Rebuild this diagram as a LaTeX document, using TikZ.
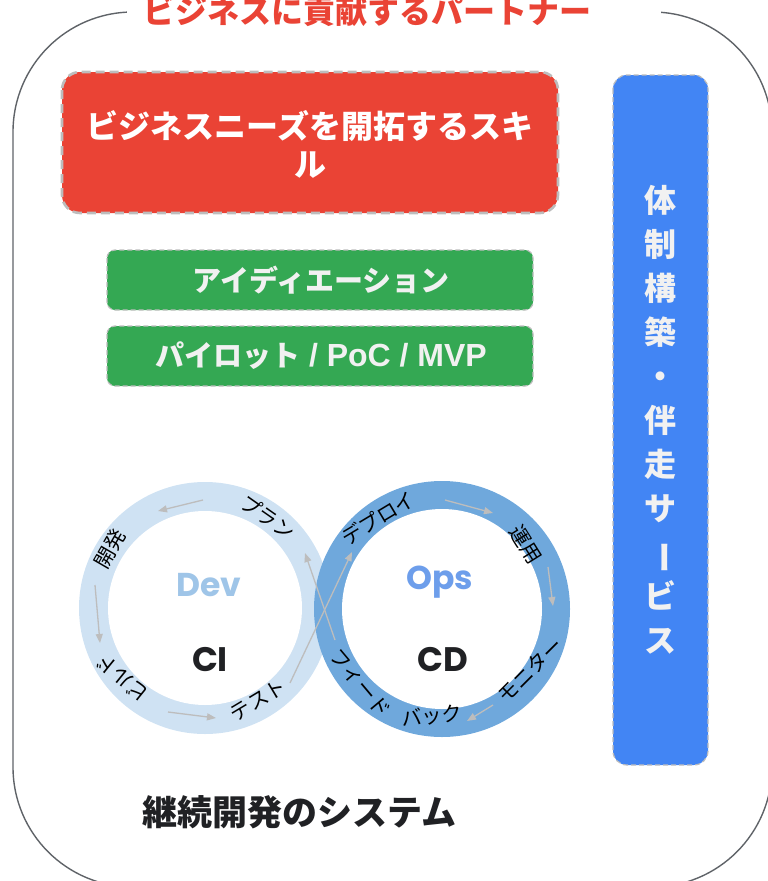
\documentclass[tikz,border=0pt]{standalone}
\usepackage{fontspec}
\setmainfont{Noto Sans CJK JP}
\newfontfamily\geo{Poppins}
\newfontfamily\arialf{Liberation Sans}
\usetikzlibrary{arrows.meta}
\definecolor{gred}{HTML}{EA4335}
\definecolor{ggreen}{HTML}{34A853}
\definecolor{gblue}{HTML}{4285F4}
\definecolor{framegray}{HTML}{5F6368}
\definecolor{dashgray}{HTML}{BDBDBD}
\definecolor{arrowgray}{HTML}{BDBDBD}
\definecolor{ringlight}{HTML}{CFE2F3}
\definecolor{ringdark}{HTML}{6FA8DC}
\definecolor{devblue}{HTML}{9FC5E8}
\definecolor{opsblue}{HTML}{6D9EEB}
\definecolor{inkblack}{HTML}{202124}
\definecolor{offwhite}{HTML}{F1F1F1}
\begin{document}
\begin{tikzpicture}[x=1pt,y=-1pt,
  frame/.style={draw=framegray, line width=1.4pt},
  box/.style={draw=dashgray, dashed, dash pattern=on 9pt off 5pt, line width=2.6pt},
  thinbox/.style={draw=dashgray, dashed, dash pattern=on 5pt off 3pt, line width=1.2pt},
  ringlbl/.style={font=\fontsize{20.5}{20.5}\selectfont, text=black, inner sep=0pt},
  flow/.style={draw=arrowgray, line width=1.3pt, -{Triangle[length=9pt,width=7pt]}},
  bigtxt/.style={font=\bfseries\fontsize{#1}{#1}\selectfont, inner sep=0pt}
]
\useasboundingbox (0,0) rectangle (768,881);
% outer frame
\draw[frame, rounded corners=120pt] (13,12) rectangle (772,887);
\fill[white] (127,0) rectangle (661,26);
\node[bigtxt=32, text=gred, anchor=base] (title) at (367,23) {ビジネスに貢献するパートナー};

% red box
\draw[box, fill=gred, rounded corners=18pt] (62,72) rectangle (558,213);
\node[font=\bfseries\fontsize{32}{38}\selectfont, text=white, align=center, inner sep=0pt] (skill) at (310,144) {ビジネスニーズを開拓するスキ\\ル};

% green boxes
\draw[thinbox, fill=ggreen, rounded corners=8pt] (107,250) rectangle (533,310);
\node[bigtxt=29, text=offwhite] (idea) at (321,280) {アイディエーション};
\draw[thinbox, fill=ggreen, rounded corners=8pt] (107,326) rectangle (533,386);
\node[bigtxt=29, text=offwhite] (pilot) at (321,356) {パイロット{\arialf\fontsize{32}{32}\selectfont\ / PoC / MVP}};

% blue box
\draw[thinbox, fill=gblue, rounded corners=14pt] (613,75) rectangle (708,765);
\node[font=\bfseries\fontsize{32}{44}\selectfont, text=offwhite, align=center, inner sep=0pt] (support) at (660,420)
  {体\\制\\構\\築\\・\\伴\\走\\サ\\\rotatebox[origin=c]{-90}{ー}\\ビ\\ス};

% rings
\fill[ringlight] (205,608) circle (126);
\fill[white] (205,608) circle (97);
\fill[ringdark] (442,609) circle (128);
\fill[white] (442,609) circle (100);

\node[font=\geo\bfseries\fontsize{33}{33}\selectfont, text=devblue, inner sep=0pt] (dev) at (209,585) {Dev};
\node[font=\geo\bfseries\fontsize{34}{34}\selectfont, text=inkblack, inner sep=0pt] (ci) at (210,660) {CI};
\node[font=\geo\bfseries\fontsize{33}{33}\selectfont, text=opsblue, inner sep=0pt] (ops) at (440,582) {Ops};
\node[font=\geo\bfseries\fontsize{34}{34}\selectfont, text=inkblack, inner sep=0pt] (cd) at (443,660) {CD};

% ring labels
\node[ringlbl, rotate=-35] (plan) at (268,517) {プラン};
\node[ringlbl, rotate=60] (kaihatsu) at (110,549) {開発};
\node[ringlbl, rotate=141] (build) at (122,678) {ビルド};
\node[ringlbl, rotate=31] (test) at (258,700) {テスト};
\node[ringlbl, rotate=31] (deploy) at (378,518) {デプロイ};
\node[ringlbl, rotate=-58] (unyou) at (526,545) {運用};
\node[ringlbl, rotate=45] (monitor) at (530,670) {モニター};
\node[ringlbl, rotate=6] (back) at (432,716) {バック};
\node[ringlbl, rotate=-50] (feed) at (360,683) {フィード};

% arrow end points
\coordinate (a1s) at (203,500); \coordinate (a1e) at (158,511);
\coordinate (a2s) at (95,585);  \coordinate (a2e) at (100,643);
\coordinate (a3s) at (168,712); \coordinate (a3e) at (216,718);
\coordinate (a4s) at (290,683); \coordinate (a4e) at (352,552);
\coordinate (a5s) at (335,640); \coordinate (a5e) at (305,553);
\coordinate (a6s) at (445,500); \coordinate (a6e) at (493,513);
\coordinate (a7s) at (548,567); \coordinate (a7e) at (553,606);
\coordinate (a8s) at (493,705); \coordinate (a8e) at (467,721);
\draw[flow] (a1s) -- (a1e);
\draw[flow] (a2s) -- (a2e);
\draw[flow] (a3s) -- (a3e);
\draw[flow] (a4s) -- (a4e);
\draw[flow] (a5s) -- (a5e);
\draw[flow] (a6s) -- (a6e);
\draw[flow] (a7s) -- (a7e);
\draw[flow] (a8s) -- (a8e);

% bottom caption
\node[bigtxt=35, text=inkblack] (system) at (299,812) {継続開発のシステム};
\end{tikzpicture}
\end{document}
